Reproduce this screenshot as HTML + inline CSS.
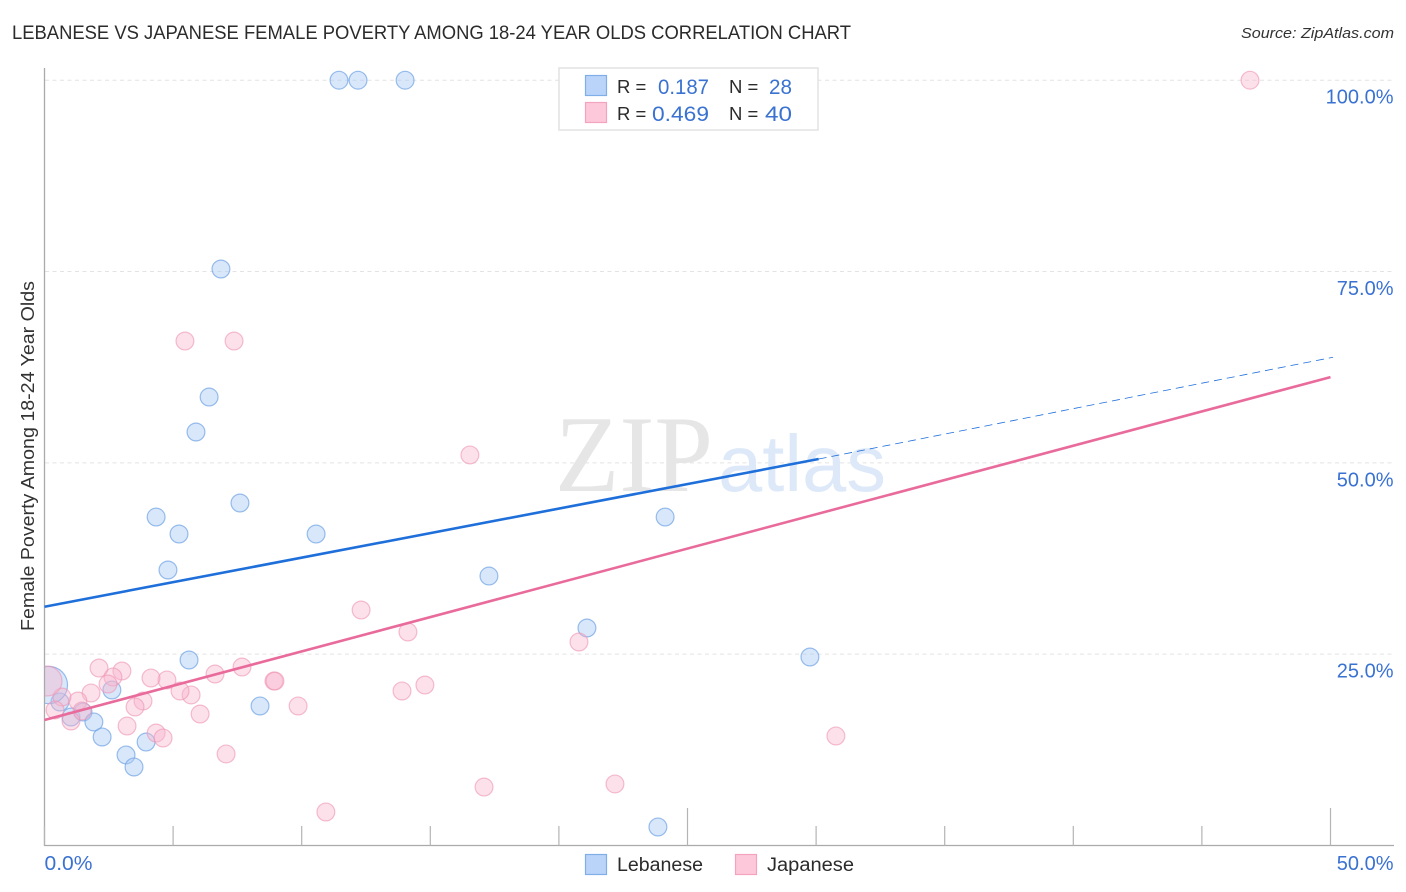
<!DOCTYPE html>
<html lang="en">
<head>
<meta charset="utf-8">
<title>Lebanese vs Japanese Female Poverty Among 18-24 Year Olds Correlation Chart</title>
<style>
html,body{margin:0;padding:0;background:#fff;width:1406px;height:892px;overflow:hidden}
svg{display:block}
text{font-family:"Liberation Sans",sans-serif}
</style>
</head>
<body>
<svg id="chart" xmlns="http://www.w3.org/2000/svg" width="1406" height="892" viewBox="0 0 1406 892">
  <defs>
    <clipPath id="plot-clip"><rect x="45" y="60" width="1349" height="785"></rect></clipPath>
  </defs>
  <rect x="0" y="0" width="1406" height="892" fill="#ffffff"></rect>
  <text x="12" y="39" font-size="19" fill="#2b2b2b" textLength="839" lengthAdjust="spacingAndGlyphs">LEBANESE VS JAPANESE FEMALE POVERTY AMONG 18-24 YEAR OLDS CORRELATION CHART</text>
  <text x="1241" y="38" font-size="15" font-style="italic" fill="#333333" textLength="153" lengthAdjust="spacingAndGlyphs">Source: ZipAtlas.com</text>
  <text transform="translate(34 631) rotate(-90)" x="0" y="0" font-size="18.5" fill="#333333" textLength="350" lengthAdjust="spacingAndGlyphs">Female Poverty Among 18-24 Year Olds</text>

  <g id="grid-layer"></g>
  <g>
    <text x="555" y="491" font-size="109" fill="#e6e6e6" textLength="158" lengthAdjust="spacingAndGlyphs" style="font-family:'Liberation Serif',serif">ZIP</text>
    <text x="718" y="491" font-size="80" fill="#dde9f9" textLength="168" lengthAdjust="spacingAndGlyphs" style="font-family:'Liberation Sans',sans-serif">atlas</text>
  </g>
  <g id="points-layer" clip-path="url(#plot-clip)"></g>
  <rect x="28" y="655" width="16" height="60" fill="#ffffff"></rect>
  <g id="axis-layer"></g>
  <g id="trend-layer"></g>

  <g>
    <rect x="559" y="68" width="259" height="62" fill="#ffffff" stroke="#e2e2e2" stroke-width="1.5"></rect>
    <rect x="585.5" y="75.5" width="21" height="20" fill="#b9d4f8" stroke="#80aee8" stroke-width="1.2"></rect>
    <text x="617" y="93" font-size="18.5" fill="#2b2b2b">R =</text>
    <text x="658" y="94" font-size="21.5" fill="#3a72d2" textLength="51" lengthAdjust="spacingAndGlyphs">0.187</text>
    <text x="729" y="93" font-size="18.5" fill="#2b2b2b">N =</text>
    <text x="769" y="94" font-size="21.5" fill="#3a72d2" textLength="23" lengthAdjust="spacingAndGlyphs">28</text>
    <rect x="585.5" y="102.5" width="21" height="20" fill="#fdc9da" stroke="#f3a3bd" stroke-width="1.2"></rect>
    <text x="617" y="120" font-size="18.5" fill="#2b2b2b">R =</text>
    <text x="652" y="121" font-size="21.5" fill="#3a72d2" textLength="57" lengthAdjust="spacingAndGlyphs">0.469</text>
    <text x="729" y="120" font-size="18.5" fill="#2b2b2b">N =</text>
    <text x="765" y="121" font-size="21.5" fill="#3a72d2" textLength="27" lengthAdjust="spacingAndGlyphs">40</text>
  </g>

  <g>
    <rect x="585.5" y="854.5" width="21" height="20" fill="#b9d4f8" stroke="#80aee8" stroke-width="1.2"></rect>
    <text x="617" y="871" font-size="19" fill="#2b2b2b" textLength="86" lengthAdjust="spacingAndGlyphs">Lebanese</text>
    <rect x="735.5" y="854.5" width="21" height="20" fill="#fdc9da" stroke="#f3a3bd" stroke-width="1.2"></rect>
    <text x="767" y="871" font-size="19" fill="#2b2b2b" textLength="87" lengthAdjust="spacingAndGlyphs">Japanese</text>
  </g>
</svg>
<script>
const lebaneseX = [11.45,12.19,14.02,6.86,6.40,5.89,7.60,4.34,5.23,10.56,4.80,17.28,24.13,21.09,29.76,5.62,2.62,8.38,0.60,1.03,1.50,1.92,2.24,3.17,3.95,3.48,23.85,0.17];
const lebaneseY = [100,100,100,75.33,58.6,54.03,44.75,42.92,40.70,40.70,36.0,35.21,42.92,28.42,24.63,24.24,20.32,18.23,18.75,16.79,17.44,16.14,14.18,11.83,13.52,10.26,2.42,20.97];
const lebaneseWeight = [1,1,1,1,1,1,1,1,1,1,1,1,1,1,1,1,1,1,1,1,1,1,1,1,1,1,1,4.4];
const japaneseX = [46.87,5.46,7.37,16.54,12.31,14.13,20.78,14.79,13.90,9.86,8.92,8.96,7.68,6.63,5.70,5.27,6.05,4.76,4.14,3.83,3.52,3.21,4.34,4.61,7.06,30.77,17.09,22.18,10.94,3.01,2.66,2.47,2.12,1.81,1.30,1.46,1.03,0.68,0.41,0.10];
const japaneseY = [100,65.92,65.92,51.03,30.77,27.90,26.59,20.97,20.19,18.23,21.49,21.49,23.32,22.41,19.67,20.19,17.18,21.63,21.89,18.88,18.10,15.61,14.70,14.05,11.96,14.31,7.64,8.04,4.38,22.80,22.02,21.10,23.19,19.93,18.88,17.58,16.27,19.40,17.71,21.49];
const japaneseWeight = [1,1,1,1,1,1,1,1,1,1,1,1,1,1,1,1,1,1,1,1,1,1,1,1,1,1,1,1,1,1,1,1,1,1,1,1,1,1,1,2.8];
const lebaneseTrendX = [0,30.1,50.1];
const lebaneseTrendY = [31.2,50.5,63.8];
const japaneseTrendX = [0,50];
const japaneseTrendY = [16.4,61.2];
const yTickValues = [25,50,75,100];
const yTickLabels = ["25.0%","50.0%","75.0%","100.0%"];
const xTickValues = [0,5,10,15,20,25,30,35,40,45,50];
const xTickMajor = [25,50];
const xEndLabels = ["0.0%","50.0%"];

const NS = 'http://www.w3.org/2000/svg';
function xScale(v){ return 44.5 + v * 25.72; }
function yScale(v){ return 845.5 - v * 7.653; }
function rScale(w){ return 8.9 * Math.sqrt(w); }
function make(tag, attrs, parent){
  const el = document.createElementNS(NS, tag);
  for (const k in attrs) el.setAttribute(k, attrs[k]);
  parent.appendChild(el);
  return el;
}
const gridLayer = document.getElementById('grid-layer');
const axisLayer = document.getElementById('axis-layer');
const pointsLayer = document.getElementById('points-layer');
const trendLayer = document.getElementById('trend-layer');

yTickValues.forEach(function(v, i){
  const line = make('line', {x1:45, x2:1393, y1:yScale(v), y2:yScale(v), stroke:'#e3e3e3', 'stroke-width':1, 'stroke-dasharray':'4 3.5'}, gridLayer);
  
  
  const label = make('text', {x:1393.5, y:yScale(v) + 23.5, 'text-anchor':'end', 'font-size':20, fill:'#3a72d2'}, axisLayer);
  
  
  label.textContent = yTickLabels[i];
});

const yAxis = make('line', {x1:44.5, x2:44.5, y1:68, y2:846, stroke:'#aaaaaa', 'stroke-width':1.3}, axisLayer);


const xAxis = make('line', {x1:44, x2:1394, y1:845.5, y2:845.5, stroke:'#aaaaaa', 'stroke-width':1.3}, axisLayer);



xTickValues.forEach(function(v){
  const top = xTickMajor.indexOf(v) >= 0 ? 808 : 826;
  const tick = make('line', {x1:xScale(v), x2:xScale(v), y1:top, y2:845.5, stroke:'#b4b4b4', 'stroke-width':1.2}, axisLayer);
  
  
});

const xLabelStart = make('text', {x:xScale(0), y:870, 'font-size':20, fill:'#3a72d2', textLength:48, lengthAdjust:'spacingAndGlyphs'}, axisLayer);


xLabelStart.textContent = xEndLabels[0];
const xLabelEnd = make('text', {x:1393.5, y:870, 'text-anchor':'end', 'font-size':20, fill:'#3a72d2'}, axisLayer);


xLabelEnd.textContent = xEndLabels[1];

lebaneseX.forEach(function(v, i){
  const dot = make('circle', {cx:xScale(v), cy:yScale(lebaneseY[i]), r:rScale(lebaneseWeight[i]), fill:'#a9caf4', 'fill-opacity':0.45, stroke:'#6fa3e6', 'stroke-opacity':0.7, 'stroke-width':1.2}, pointsLayer);
  
  
});
japaneseX.forEach(function(v, i){
  const dot = make('circle', {cx:xScale(v), cy:yScale(japaneseY[i]), r:rScale(japaneseWeight[i]), fill:'#f9b6cc', 'fill-opacity':0.42, stroke:'#ee92b2', 'stroke-opacity':0.6, 'stroke-width':1.2}, pointsLayer);
  
  
});

const blueSolid = make('line', {x1:xScale(lebaneseTrendX[0]), y1:yScale(lebaneseTrendY[0]), x2:xScale(lebaneseTrendX[1]), y2:yScale(lebaneseTrendY[1]), stroke:'#1f6fdb', 'stroke-width':2.6}, trendLayer);


const blueDash = make('line', {x1:xScale(lebaneseTrendX[1]), y1:yScale(lebaneseTrendY[1]), x2:xScale(lebaneseTrendX[2]), y2:yScale(lebaneseTrendY[2]), stroke:'#1f6fdb', 'stroke-width':0.8, 'stroke-dasharray':'8 5'}, trendLayer);


const pinkLine = make('line', {x1:xScale(japaneseTrendX[0]), y1:yScale(japaneseTrendY[0]), x2:xScale(japaneseTrendX[1]), y2:yScale(japaneseTrendY[1]), stroke:'#e96b9b', 'stroke-width':2.6}, trendLayer);


</script>
</body>
</html>
